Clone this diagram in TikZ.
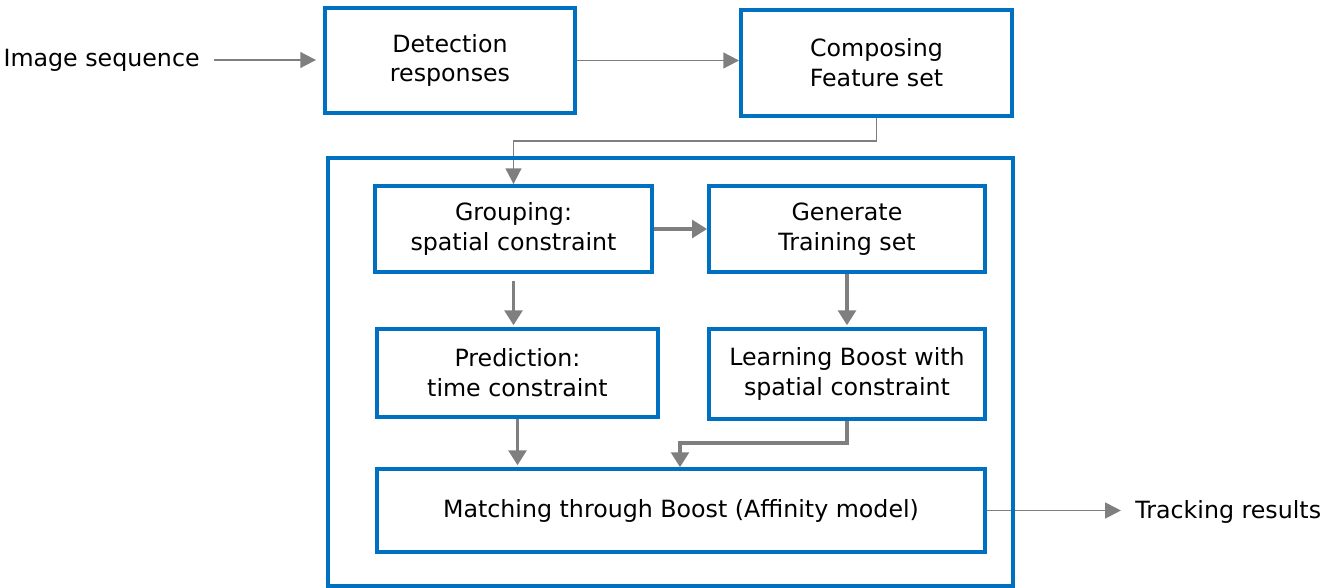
\documentclass[tikz,border=0pt]{standalone}
\usepackage{fontspec}
\setmainfont{DejaVu Sans}
\usetikzlibrary{arrows.meta}
\definecolor{boxblue}{HTML}{0070C0}
\definecolor{arrowgray}{HTML}{7F7F7F}
\begin{document}
\begin{tikzpicture}[
        x=0.02cm, y=-0.02cm,
        % blue framed boxes
        block/.style={
            draw=boxblue,
            line width=2.2pt,
            align=center,
            inner sep=0pt,
            font=\fontsize{13.5}{17}\selectfont
        },
        label/.style={
            inner sep=0pt,
            font=\fontsize{13.5}{17}\selectfont
        },
        thin arrow/.style={
            draw=arrowgray,
            line width=1.1pt,
            -{Triangle[length=9pt,width=9pt]}
        },
        thick arrow/.style={
            draw=arrowgray,
            line width=2.2pt,
            -{Triangle[length=8.5pt,width=10pt]}
        }
    ]
    \useasboundingbox (0,0) rectangle (1333,588);

    \node[block, minimum width=5cm, minimum height=2.1cm] (det) at (450,60.5) {Detection\\responses};
    \node[block, minimum width=5.42cm, minimum height=2.12cm] (comp) at (876.5,63) {Composing\\Feature set};

    \node[block, minimum width=5.54cm, minimum height=1.72cm] (grp) at (513.5,229) {Grouping:\\spatial constraint};
    \node[block, minimum width=5.52cm, minimum height=1.72cm] (gen) at (847,229) {Generate\\Training set};
    \node[block, minimum width=5.62cm, minimum height=1.76cm] (pred) at (517.5,373) {Prediction:\\time constraint};
    \node[block, minimum width=5.52cm, minimum height=1.8cm] (learn) at (847,374) {Learning Boost with\\spatial constraint};
    \node[block, minimum width=12.16cm, minimum height=1.66cm] (match) at (681,510.5) {Matching through Boost (Affinity model)};

    \node[label, anchor=east] (img) at (200,60) {Image sequence};
    \node[label, anchor=west] (track) at (1135,512) {Tracking results};

    % connectors
    \draw[thin arrow, shorten <=8pt, shorten >=4pt] (img.east) -- (img.east -| det.west);
    \draw[thin arrow] (det.east) -- (det.east -| comp.west);
    \draw[thin arrow] (comp.south) -- ++(0,23) -| (grp.north);
    \draw[thick arrow] (grp.east) -- (gen.west);
    \draw[thick arrow, shorten <=4pt, shorten >=1pt] (grp.south) -- (grp.south |- pred.north);
    \draw[thick arrow, shorten >=1pt] (gen.south) -- (learn.north);
    \draw[thick arrow, shorten >=1pt] (pred.south) -- (pred.south |- match.north);
    \draw[thick arrow, shorten >=1pt] (learn.south) -- ++(0,22) -| (680,469);
    \draw[thin arrow, shorten >=8pt] (match.east) -- (match.east -| track.west);

    % outer frame, on top of the output line
    \node[block, minimum width=13.7cm, minimum height=8.56cm] (frame) at (670.5,372) {};
\end{tikzpicture}
\end{document}
